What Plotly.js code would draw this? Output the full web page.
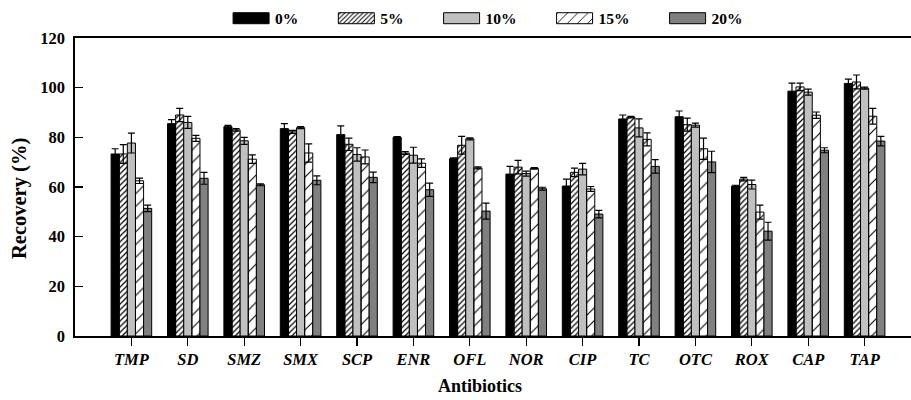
<!DOCTYPE html>
<html>
<head>
<meta charset="utf-8">
<script src="https://cdn.plot.ly/plotly-3.0.1.min.js"></script>
<style>
  html, body { margin: 0; padding: 0; overflow: hidden; background: #fff; }
  #chart { width: 921px; height: 400px; }
</style>
</head>
<body>
<div id="chart"></div>
<script>
// Antibiotics on the x axis
const categories = ['TMP', 'SD', 'SMZ', 'SMX', 'SCP', 'ENR', 'OFL', 'NOR', 'CIP', 'TC', 'OTC', 'ROX', 'CAP', 'TAP'];

// Recovery (%) and standard deviation at each level
const rec0  = [73.3, 85.5, 84.3, 83.5, 81.1, 80.0, 71.4, 65.2, 60.4, 87.4, 88.3, 60.4, 98.6, 101.7];
const err0  = [2.1, 1.6, 0.5, 2.0, 3.5, 0.3, 0.3, 3.1, 2.8, 1.6, 2.3, 0.3, 3.2, 1.7];

const rec5  = [73.3, 89.0, 83.0, 82.2, 77.2, 73.7, 76.8, 68.0, 65.9, 88.1, 85.1, 63.2, 100.3, 102.3];
const err5  = [3.8, 2.7, 0.5, 0.6, 2.5, 0.6, 3.6, 2.7, 1.7, 0.3, 2.6, 0.7, 1.5, 2.8];

const rec10 = [77.7, 86.0, 78.6, 83.9, 73.1, 72.8, 79.4, 65.4, 67.2, 83.8, 84.9, 61.0, 98.2, 99.8];
const err10 = [4.0, 2.4, 1.4, 0.4, 2.7, 3.2, 0.4, 1.0, 2.3, 3.6, 0.8, 1.8, 1.2, 0.4];

const rec15 = [62.5, 79.6, 71.2, 73.7, 72.1, 69.6, 67.7, 67.5, 59.2, 79.2, 75.4, 49.9, 88.9, 88.5];
const err15 = [1.1, 1.2, 1.7, 3.7, 2.8, 1.7, 0.4, 0.3, 1.0, 2.6, 4.3, 2.8, 1.3, 3.2];

const rec20 = [51.4, 63.5, 60.9, 62.7, 63.9, 58.9, 50.3, 59.3, 49.1, 68.3, 70.1, 42.2, 74.8, 78.5];
const err20 = [1.3, 2.4, 0.4, 1.8, 2.1, 2.7, 3.2, 0.6, 1.5, 2.7, 4.3, 3.6, 1.0, 1.9];

const levelNames = ['0%', '5%', '10%', '15%', '20%'];

const FONT = "'Liberation Serif', 'Times New Roman', serif";

const fills = [
  { color: '#000000' },
  { color: '#ffffff', pattern: { shape: '/', size: 4, solidity: 0.3, fgcolor: '#000000', fillmode: 'replace' } },
  { color: '#c0c0c0' },
  { color: '#ffffff', pattern: { shape: '/', size: 9, solidity: 0.12, fgcolor: '#000000', fillmode: 'replace' } },
  { color: '#808080' }
];

const values = [rec0, rec5, rec10, rec15, rec20];
const errors = [err0, err5, err10, err15, err20];

const traces = levelNames.map((name, i) => {
  const marker = { color: fills[i].color, line: { color: '#000000', width: 1 } };
  if (fills[i].pattern) marker.pattern = fills[i].pattern;
  return {
    type: 'bar',
    name: name,
    x: categories,
    y: values[i],
    marker: marker,
    error_y: { type: 'data', array: errors[i], visible: true, color: '#000000', thickness: 1.2, width: 3.5 },
    hoverinfo: 'skip'
  };
});

const titleFont = { family: FONT, weight: 'bold', color: '#000000' };

const layout = {
  width: 921,
  height: 400,
  margin: { l: 75, r: 0, t: 38, b: 64 },
  paper_bgcolor: '#ffffff',
  plot_bgcolor: '#ffffff',
  barmode: 'group',
  bargap: 0.28,
  bargroupgap: 0,
  font: { family: FONT, color: '#000000', weight: 'bold' },
  showlegend: true,
  legend: {
    orientation: 'h',
    x: 0.1455, xanchor: 'left',
    y: 1.065, yanchor: 'middle',
    font: { family: FONT, size: 15.5, weight: 'bold', color: '#000000' },
    itemwidth: 67,
    bgcolor: 'rgba(0,0,0,0)'
  },
  xaxis: {
    type: 'category',
    range: [-1, 14],
    showline: true, linecolor: '#000000', linewidth: 1.6, mirror: true,
    ticks: 'outside', ticklen: 8, tickwidth: 1.3, tickcolor: '#000000',
    showgrid: false, zeroline: false,
    tickfont: { family: FONT, size: 16.5, weight: 'bold', style: 'italic', color: '#000000' }
  },
  yaxis: {
    range: [0, 120],
    dtick: 20,
    showline: true, linecolor: '#000000', linewidth: 1.6, mirror: true,
    ticks: 'inside', ticklen: 8, tickwidth: 1.3, tickcolor: '#000000',
    showgrid: false, zeroline: false,
    ticklabelstandoff: 5,
    tickfont: { family: FONT, size: 16.5, weight: 'bold', color: '#000000' }
  },
  // axis titles, placed as paper-anchored text
  annotations: [
    {
      text: 'Antibiotics',
      xref: 'paper', yref: 'paper',
      x: (480 - 75) / 846, y: -0.168,
      xanchor: 'center', yanchor: 'middle',
      showarrow: false,
      font: Object.assign({ size: 18 }, titleFont)
    },
    {
      text: 'Recovery (%)',
      xref: 'paper', yref: 'paper',
      x: (20 - 75) / 846, y: (336 - 199) / 298,
      xanchor: 'center', yanchor: 'middle',
      textangle: -90,
      showarrow: false,
      font: Object.assign({ size: 20.5 }, titleFont)
    }
  ]
};

// Legend swatches are drawn as wide flat rectangles ending just before the label
function translateX(el) {
  const tf = el && el.getAttribute('transform');
  if (!tf) return 0;
  const m = /translate\(\s*([-\d.]+)/.exec(tf);
  return m ? parseFloat(m[1]) : 0;
}

function widenSwatches(gd) {
  gd.querySelectorAll('.legend .traces').forEach(tr => {
    const txt = tr.querySelector('text.legendtext');
    const pts = tr.querySelector('.legendpoints');
    if (!txt || !pts) return;
    const tx = parseFloat(txt.getAttribute('x')) || 0;
    const px = translateX(pts);
    pts.querySelectorAll('path').forEach(p => {
      const x2 = tx - 6 - px;
      const x1 = x2 - 36;
      p.removeAttribute('transform');
      p.setAttribute('d', 'M' + x1 + ',-5.5H' + x2 + 'V5.5H' + x1 + 'Z');
    });
  });
}

Plotly.newPlot('chart', traces, layout, { displayModeBar: false, staticPlot: true }).then(gd => {
  widenSwatches(gd);
});
</script>
</body>
</html>
